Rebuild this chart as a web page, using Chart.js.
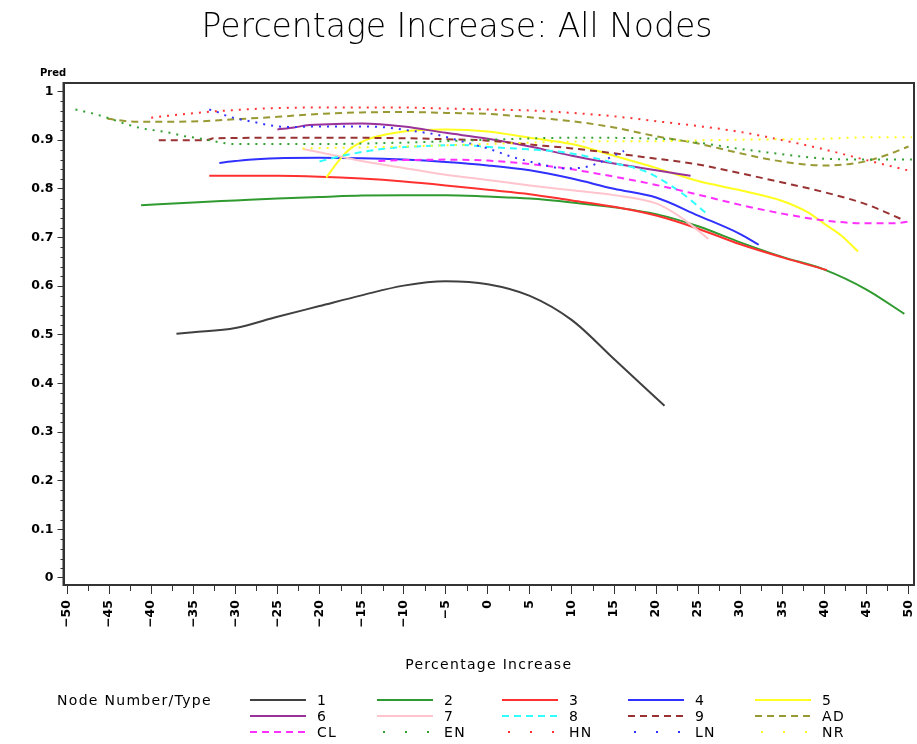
<!DOCTYPE html>
<html>
<head>
<meta charset="utf-8">
<script src="https://cdn.jsdelivr.net/npm/chart.js@4.4.1/dist/chart.umd.min.js"></script>
<style>
  html, body { margin: 0; padding: 0; background: #fff; }
  #wrap { width: 917px; height: 744px; position: relative; }
</style>
</head>
<body>
<div id="wrap"><canvas id="myChart"></canvas></div>
<script>
// values (x = percentage increase, y = pred)
const x1 = [-37, -35, -30, -25, -20, -15, -10, -5, 0, 5, 10, 15, 21];
const y1 = [0.502, 0.505, 0.514, 0.537, 0.559, 0.581, 0.601, 0.610, 0.604, 0.580, 0.530, 0.450, 0.354];

const x2 = [-41.2, -35, -30, -25, -20, -15, -10, -5, 0, 5, 10, 15, 20, 25, 30, 35, 40, 45, 49.5];
const y2 = [0.766, 0.772, 0.776, 0.780, 0.783, 0.786, 0.787, 0.787, 0.784, 0.780, 0.772, 0.762, 0.748, 0.723, 0.690, 0.660, 0.634, 0.593, 0.543];

const x3 = [-33.1, -25, -20, -15, -10, -5, 0, 5, 10, 15, 20, 25, 30, 35, 40.3];
const y3 = [0.827, 0.827, 0.825, 0.821, 0.815, 0.807, 0.798, 0.789, 0.776, 0.763, 0.745, 0.718, 0.686, 0.659, 0.633];

const x4 = [-31.9, -30, -27.5, -20, -15, -10, -5, 0, 5, 10, 15, 20, 25, 30, 32.2];
const y4 = [0.853, 0.857, 0.861, 0.864, 0.863, 0.860, 0.855, 0.848, 0.838, 0.821, 0.800, 0.782, 0.745, 0.707, 0.685];

const x5 = [-19.2, -17.7, -16.5, -14.5, -12, -10, -5, 0, 5, 10, 15, 20, 25, 30, 35, 38, 40, 42, 44];
const y5 = [0.823, 0.858, 0.880, 0.900, 0.912, 0.918, 0.922, 0.918, 0.905, 0.892, 0.868, 0.843, 0.816, 0.797, 0.775, 0.752, 0.728, 0.704, 0.671];

const x6 = [-25, -23, -21.7, -18, -15, -10, -5, 0, 5, 10, 15, 20, 24.1];
const y6 = [0.922, 0.926, 0.930, 0.933, 0.934, 0.928, 0.915, 0.903, 0.887, 0.868, 0.852, 0.838, 0.827];

const x7 = [-22, -20, -18, -15, -10, -5, 0, 5, 10, 15, 20, 22, 24, 26.2];
const y7 = [0.882, 0.875, 0.868, 0.857, 0.843, 0.829, 0.818, 0.807, 0.797, 0.787, 0.770, 0.752, 0.728, 0.697];

const x8 = [-20, -18.5, -14.5, -11.5, -8.5, -3, 0, 5, 9, 13, 15, 18.7, 21.9, 23.9, 26.2];
const y8 = [0.856, 0.863, 0.877, 0.884, 0.887, 0.890, 0.886, 0.881, 0.875, 0.862, 0.853, 0.836, 0.805, 0.780, 0.746];

const x9 = [-39.1, -33.5, -32.5, -20, -10, -5, 0, 5, 10, 15, 20, 25, 30, 35, 40, 45, 49.5];
const y9 = [0.900, 0.900, 0.904, 0.905, 0.904, 0.902, 0.899, 0.891, 0.883, 0.873, 0.862, 0.850, 0.832, 0.813, 0.793, 0.768, 0.735];

const xAD = [-45.2, -42, -38, -34, -30, -25, -20, -15, -10, -5, 0, 5, 10, 15, 20, 25, 30, 35, 40, 42.5, 45, 47.5, 50];
const yAD = [0.944, 0.938, 0.938, 0.939, 0.943, 0.948, 0.954, 0.957, 0.958, 0.956, 0.954, 0.947, 0.939, 0.926, 0.908, 0.893, 0.873, 0.856, 0.848, 0.850, 0.857, 0.870, 0.887];

const xCL = [-13, -10, -5, 0, 5, 10, 15, 20, 25, 30, 35, 40, 45, 48, 50.2];
const yCL = [0.857, 0.859, 0.860, 0.858, 0.851, 0.840, 0.825, 0.808, 0.788, 0.767, 0.749, 0.735, 0.729, 0.729, 0.733];

const xEN = [-49, -47, -45, -43, -41, -38, -36, -34, -32, -30, -20, -10, 0, 10, 20, 25, 30, 35, 40, 45, 50.4];
const yEN = [0.963, 0.955, 0.945, 0.933, 0.924, 0.916, 0.908, 0.903, 0.896, 0.892, 0.892, 0.895, 0.901, 0.905, 0.903, 0.895, 0.882, 0.871, 0.862, 0.860, 0.860];

const xHN = [-40, -38, -34, -30, -25, -20, -10, -5, 0, 5, 10, 15, 20, 25, 30, 35, 40, 45, 50.4];
const yHN = [0.946, 0.950, 0.957, 0.962, 0.966, 0.967, 0.967, 0.965, 0.963, 0.961, 0.956, 0.949, 0.939, 0.929, 0.917, 0.900, 0.881, 0.859, 0.836];

const xLN = [-33.1, -32, -31, -30, -28, -26, -24, -20, -15, -12, -9, -6, -3, 0, 3, 6, 9, 11, 13, 14.5, 16.2];
const yLN = [0.963, 0.957, 0.950, 0.945, 0.938, 0.931, 0.927, 0.928, 0.928, 0.926, 0.919, 0.911, 0.897, 0.883, 0.865, 0.852, 0.842, 0.843, 0.852, 0.864, 0.878];

const xNR = [-22, -10, 0, 10, 20, 30, 40, 45, 50.4];
const yNR = [0.883, 0.887, 0.892, 0.897, 0.898, 0.901, 0.903, 0.906, 0.906];

// axis ticks
const xTicks = [-50, -45, -40, -35, -30, -25, -20, -15, -10, -5, 0, 5, 10, 15, 20, 25, 30, 35, 40, 45, 50];
const xTickLabels = ["\u221250", "\u221245", "\u221240", "\u221235", "\u221230", "\u221225", "\u221220", "\u221215", "\u221210", "\u22125", "0", "5", "10", "15", "20", "25", "30", "35", "40", "45", "50"];
const yTicks = [0, 0.1, 0.2, 0.3, 0.4, 0.5, 0.6, 0.7, 0.8, 0.9, 1];
const yTickLabels = ["0", "0.1", "0.2", "0.3", "0.4", "0.5", "0.6", "0.7", "0.8", "0.9", "1"];

const SOLID = [];
const DASH = [7, 5];
const DOT = [2, 6];

const series = [
  { label: "1",  xs: x1,  ys: y1,  color: "#404040", dash: SOLID },
  { label: "2",  xs: x2,  ys: y2,  color: "#2f9a2f", dash: SOLID },
  { label: "3",  xs: x3,  ys: y3,  color: "#ff3030", dash: SOLID },
  { label: "4",  xs: x4,  ys: y4,  color: "#3030ff", dash: SOLID },
  { label: "5",  xs: x5,  ys: y5,  color: "#ffff20", dash: SOLID },
  { label: "6",  xs: x6,  ys: y6,  color: "#993399", dash: SOLID },
  { label: "7",  xs: x7,  ys: y7,  color: "#ffc4cc", dash: SOLID },
  { label: "8",  xs: x8,  ys: y8,  color: "#30ffff", dash: DASH },
  { label: "9",  xs: x9,  ys: y9,  color: "#993333", dash: DASH },
  { label: "AD", xs: xAD, ys: yAD, color: "#999933", dash: DASH },
  { label: "CL", xs: xCL, ys: yCL, color: "#ff30ff", dash: DASH },
  { label: "EN", xs: xEN, ys: yEN, color: "#33a033", dash: DOT },
  { label: "HN", xs: xHN, ys: yHN, color: "#ff3333", dash: DOT },
  { label: "LN", xs: xLN, ys: yLN, color: "#3333ff", dash: DOT },
  { label: "NR", xs: xNR, ys: yNR, color: "#ffff20", dash: DOT }
];

const datasets = series.map((s, i) => ({
  label: s.label,
  data: s.xs.map((x, k) => ({ x: x, y: s.ys[k] })),
  borderColor: s.color,
  backgroundColor: s.color,
  borderWidth: 2,
  borderDash: s.dash,
  pointRadius: 0,
  cubicInterpolationMode: "monotone",
  fill: false,
  order: series.length - i
}));

const tickFont = { family: "DejaVu Sans", size: 12.5, weight: "bold" };

// frame, minor ticks, "Pred", axis title and the legend block under the axis
const extras = {
  id: "extras",
  afterDraw(chart) {
    const { ctx, chartArea: a, scales } = chart;
    const xs = scales.x, ys = scales.y;
    ctx.save();
    ctx.strokeStyle = "#333";
    ctx.lineWidth = 2;
    ctx.strokeRect(a.left, a.top, a.right - a.left, a.bottom - a.top);

    ctx.lineWidth = 1;
    ctx.beginPath();
    for (let v = -47.5; v < 50; v += 5) {
      const px = Math.round(xs.getPixelForValue(v)) + 0.5;
      ctx.moveTo(px, a.bottom);
      ctx.lineTo(px, a.bottom + 6);
    }
    for (let k = 1; k < 50; k++) {
      if (k % 5 === 0) continue;
      const py = Math.round(ys.getPixelForValue(k / 50)) + 0.5;
      ctx.moveTo(a.left, py);
      ctx.lineTo(a.left - 3, py);
    }
    ctx.stroke();

    ctx.fillStyle = "#000";
    ctx.textBaseline = "middle";
    ctx.font = "bold 10px 'DejaVu Sans'";
    ctx.textAlign = "left";
    ctx.fillText("Pred", 40, 73);

    ctx.font = "14px 'DejaVu Sans'";
    ctx.letterSpacing = "1.3px";
    ctx.textAlign = "center";
    ctx.fillText("Percentage Increase", (a.left + a.right) / 2, 665);

    // legend
    ctx.textAlign = "left";
    ctx.fillText("Node Number/Type", 57, 701);
    const colX = [250, 377, 502, 628, 755];
    const rowY = [700, 716, 732];
    series.forEach((s, i) => {
      const cx = colX[i % 5];
      const cy = rowY[Math.floor(i / 5)];
      ctx.strokeStyle = s.color;
      ctx.fillStyle = s.color;
      ctx.lineWidth = 2;
      if (s.dash === DOT) {
        [6, 28, 50].forEach(d => ctx.fillRect(cx + d, cy - 1, 2, 2));
      } else {
        ctx.setLineDash(s.dash);
        ctx.beginPath();
        ctx.moveTo(cx, cy);
        ctx.lineTo(cx + 56, cy);
        ctx.stroke();
        ctx.setLineDash([]);
      }
      ctx.fillStyle = "#000";
      ctx.fillText(s.label, cx + 67, cy + 1);
    });
    ctx.restore();
  }
};

new Chart(document.getElementById("myChart"), {
  type: "line",
  data: { datasets: datasets },
  plugins: [extras],
  options: {
    responsive: true,
    maintainAspectRatio: false,
    animation: false,
    layout: { padding: { left: 0, right: 3, top: 0, bottom: 71 } },
    plugins: {
      legend: { display: false },
      tooltip: { enabled: false },
      title: {
        display: true,
        text: "Percentage Increase: All Nodes",
        color: "#000",
        font: { family: "DejaVu Sans", size: 33, weight: 200, lineHeight: 1.2 },
        padding: { top: 9, bottom: 34.4 }
      }
    },
    scales: {
      x: {
        type: "linear",
        min: -50.42,
        max: 50.65,
        afterBuildTicks: s => { s.ticks = xTicks.map(v => ({ value: v })); },
        afterFit: s => { s.height = 88; s.paddingLeft = 0; s.paddingRight = 0; },
        grid: { drawOnChartArea: false, drawTicks: true, tickLength: 9, color: "#333" },
        border: { display: true, color: "#333", width: 2 },
        ticks: {
          autoSkip: false,
          minRotation: 90,
          maxRotation: 90,
          padding: 6,
          color: "#000",
          font: tickFont,
          callback: (v, i) => xTickLabels[i]
        }
      },
      y: {
        type: "linear",
        min: -0.0144,
        max: 1.0175,
        afterBuildTicks: s => { s.ticks = yTicks.map(v => ({ value: v })); },
        afterFit: s => { s.width = 63.5; },
        grid: { drawOnChartArea: false, drawTicks: true, tickLength: 6, color: "#333" },
        border: { display: true, color: "#333", width: 2 },
        ticks: {
          padding: 4,
          color: "#000",
          font: tickFont,
          callback: (v, i) => yTickLabels[i]
        }
      }
    }
  }
});
</script>
</body>
</html>
